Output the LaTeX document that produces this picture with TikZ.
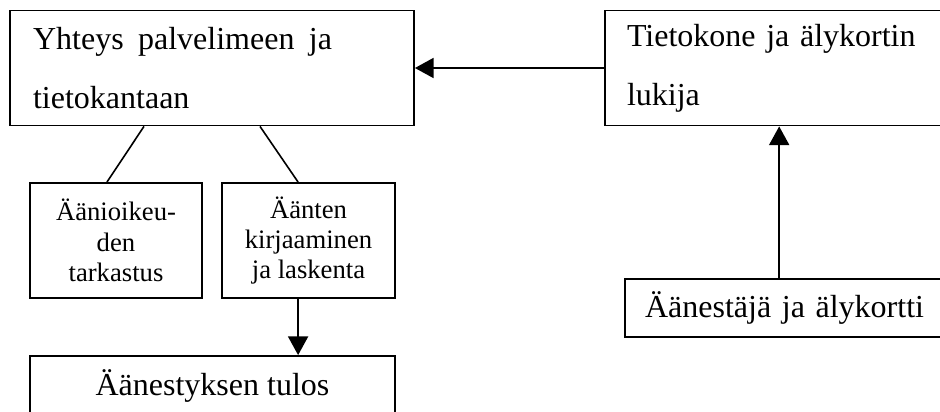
\documentclass[tikz,border=0pt]{standalone}
\usepackage{fontspec}
\setmainfont{Liberation Serif}
\usetikzlibrary{arrows.meta}

\tikzset{
	box/.style = {draw, line width = 0.7pt, rectangle, inner sep = 0pt},
	bigbox/.style = {box, font = \fontsize{12}{22}\selectfont, align = left},
	smallbox/.style = {box, minimum width = 64.7pt, minimum height = 43.1pt, font = \fontsize{10}{11.4}\selectfont, align = center},
	arr/.style = {line width = 0.7pt, -{Triangle[length = 7pt, width = 7.5pt]}},
	lin/.style = {line width = 0.6pt}
}

\begin{document}
\begin{tikzpicture}[x = 0.375pt, y = -0.375pt]
	%	page
	\useasboundingbox (0, 0) rectangle (940, 411);
	
	%	top row
	\node[bigbox, minimum width = 151.5pt, minimum height = 43.1pt, text width = 134.2pt] (yhteys) at (212, 68)
		{Yhteys\hspace{0.45em}palvelimeen\hspace{0.45em}ja\\tietokantaan};
	\node[bigbox, minimum width = 135pt, minimum height = 43.1pt, text width = 118.5pt] (tietokone) at (785, 68)
		{Tietokone ja älykortin\\lukija};
	
	%	below
	\node[smallbox] (oikeus) at (116, 240.5) {Äänioikeu-\\den\\tarkastus};
	\node[smallbox] (kirjaus) at (308.5, 240.5) {Äänten\\kirjaaminen\\ja laskenta};
	\node[box, minimum width = 136.9pt, minimum height = 22.5pt, font = \fontsize{12}{14}\selectfont] (tulos) at (212.5, 386) {Äänestyksen tulos};
	\node[box, minimum width = 125.6pt, minimum height = 21.8pt, font = \fontsize{12}{14}\selectfont, text width = 110.6pt, align = left] (aanestaja) at (792.5, 308)
		{Äänestäjä ja älykortti};
	
	%	connectors
	\draw[arr] (tietokone) -- (yhteys);
	\draw[lin] ([xshift = -25.5pt]yhteys.south) -- ([xshift = -3.4pt]oikeus.north);
	\draw[lin] ([xshift = 18pt]yhteys.south) -- ([xshift = -3.9pt]kirjaus.north);
	\draw[arr] ([xshift = -3.9pt]kirjaus.south) -- ([xshift = -3.9pt]kirjaus.south |- tulos.north);
	\draw[arr] ([xshift = -5pt]aanestaja.north) -- ([xshift = -5pt]aanestaja.north |- tietokone.south);
\end{tikzpicture}
\end{document}
